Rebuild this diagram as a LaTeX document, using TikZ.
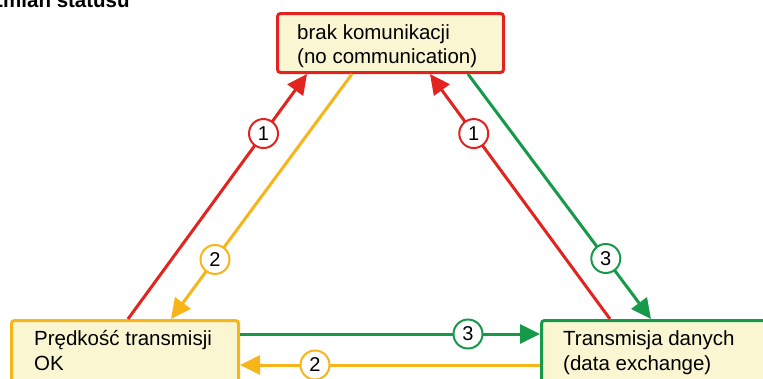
\documentclass[tikz,border=0pt]{standalone}
\usepackage{fontspec}
\setmainfont{Liberation Sans}
\usetikzlibrary{arrows.meta,shapes.geometric,calc}
\definecolor{cred}{HTML}{E3231F}
\definecolor{corange}{HTML}{F7B519}
\definecolor{cgreen}{HTML}{17994A}
\definecolor{cfill}{HTML}{FBF6D2}
\begin{document}
\begin{tikzpicture}[x=1pt,y=-1pt,
  statebox/.style={draw=#1,line width=3pt,fill=cfill,rounded corners=3pt,inner sep=0pt},
  txt/.style={anchor=base west,inner sep=0pt,font=\fontsize{20.5}{24}\selectfont},
  conn/.style={draw=#1,line width=3pt,-{Triangle[length=20pt,width=19pt]},color=#1},
  num/.style={circle,draw=#1,line width=2pt,fill=white,minimum size=29pt,inner sep=0pt,
    text=black,font=\fontsize{20}{20}\selectfont}]
\useasboundingbox (0,0) rectangle (763,378);
\fill[white] (0,0) rectangle (763,378);
\node[anchor=base west,inner sep=0pt,font=\bfseries\fontsize{20.5}{24}\selectfont] (title) at (-9.5,7) {Zmian statusu};
% boxes
\node[statebox=cred,minimum width=226pt,minimum height=59pt] (top) at (390.5,43) {};
\node[statebox=corange,minimum width=227pt,minimum height=99.5pt] (bl) at (125,370.25) {};
\node[statebox=cgreen,minimum width=258.5pt,minimum height=99.5pt] (br) at (670.75,370.25) {};
% texts
\node[txt] (t1) at (297,39.5) {brak komunikacji};
\node[txt] (t2) at (297,63) {(no communication)};
\node[txt] (l1) at (34,345) {Prędkość transmisji};
\node[txt] (l2) at (34,370) {OK};
\node[txt] (r1) at (563,345) {Transmisja danych};
\node[txt] (r2) at (563,370) {(data exchange)};
% connectors
\draw[conn=cred] ($(bl.north west)+(118,0)$) -- node[num=cred,pos=0.757] (c1) {1} ($(top.south west)+(31,0)$);
\draw[conn=corange] ($(top.south west)+(76,0)$) -- node[num=corange,pos=0.757] (c2) {2} ($(bl.north west)+(161,0)$);
\draw[conn=cred] ($(br.north west)+(70,0)$) -- node[num=cred,pos=0.757] (c3) {1} ($(top.south west)+(154,0)$);
\draw[conn=cgreen] ($(top.south west)+(192,0)$) -- node[num=cgreen,pos=0.753] (c4) {3} ($(br.north west)+(111,0)$);
\draw[conn=cgreen] ($(bl.north east)+(0,15)$) -- node[num=cgreen,pos=0.76] (c5) {3} ($(br.north west)+(0,15)$);
\draw[conn=corange] ($(br.north west)+(0,46)$) -- node[num=corange,pos=0.75] (c6) {2} ($(bl.north east)+(0,46)$);
\end{tikzpicture}
\end{document}
